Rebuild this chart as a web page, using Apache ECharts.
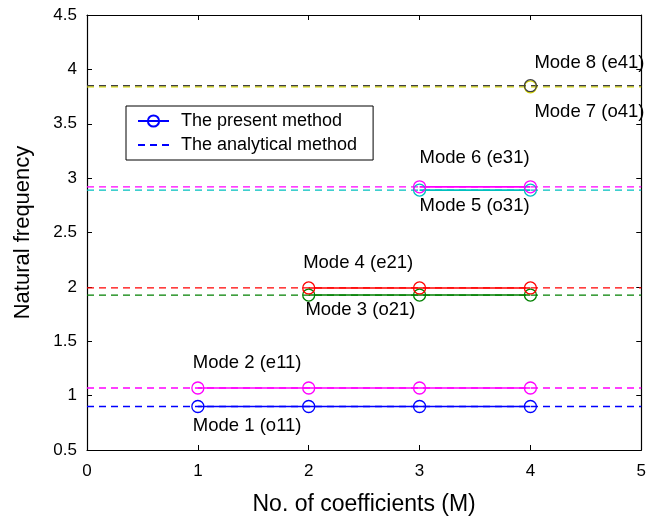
<!DOCTYPE html>
<html>
<head>
<meta charset="utf-8">
<script src="https://cdn.jsdelivr.net/npm/echarts@6/dist/echarts.min.js"></script>
<style>html,body{margin:0;padding:0;background:#fff;}#c{width:649px;height:521px;}</style>
</head>
<body>
<div id="c"></div>
<script>
// ---- data ----
const xTicks = [0, 1, 2, 3, 4, 5];
const yTicks = [0.5, 1, 1.5, 2, 2.5, 3, 3.5, 4, 4.5];
const coefficientsM = [1, 2, 3, 4];
const modeNames = ['Mode 1 (o11)', 'Mode 2 (e11)', 'Mode 3 (o21)', 'Mode 4 (e21)', 'Mode 5 (o31)', 'Mode 6 (e31)', 'Mode 7 (o41)', 'Mode 8 (e41)'];
// present method values at M = 1..4 (null = not computed)
const presentMode1 = [0.90, 0.90, 0.90, 0.90];
const presentMode2 = [1.07, 1.07, 1.07, 1.07];
const presentMode3 = [null, 1.925, 1.925, 1.925];
const presentMode4 = [null, 1.99, 1.99, 1.99];
const presentMode5 = [null, null, 2.89, 2.89];
const presentMode6 = [null, null, 2.92, 2.92];
const presentMode7 = [null, null, null, 3.84];
const presentMode8 = [null, null, null, 3.85];
// analytical values
const analyticalValues = [0.90, 1.07, 1.925, 1.99, 2.89, 2.92, 3.84, 3.85];
// annotation anchor (data coords)
const annotationX = [0.955, 0.955, 1.97, 1.95, 3.0, 3.0, 4.036, 4.036];
const annotationY = [0.72, 1.30, 1.79, 2.22, 2.74, 3.19, 3.61, 4.06];

// ---- styles ----
const modeColors = ['#0000ff', '#ff00ff', '#008000', '#ff0000', '#00bfbf', '#ff00ff', '#d8d800', '#404040'];
const presentList = [presentMode1, presentMode2, presentMode3, presentMode4, presentMode5, presentMode6, presentMode7, presentMode8];
const FONT = 'Liberation Sans, Arial, sans-serif';

const series = [];
analyticalValues.forEach((v, i) => {
  series.push({
    name: 'analytical' + i, type: 'line', symbol: 'none', silent: true,
    data: [[xTicks[0], v], [xTicks[xTicks.length - 1], v]],
    lineStyle: { color: modeColors[i], width: 1.3, type: [7, 5] },
    z: 2
  });
});
presentList.forEach((arr, i) => {
  series.push({
    name: 'present' + i, type: 'line', symbol: 'circle', symbolSize: 12,
    data: arr.map((v, k) => [coefficientsM[k], v]).filter(d => d[1] !== null),
    lineStyle: { color: modeColors[i], width: 1.6 },
    itemStyle: { color: 'rgba(0,0,0,0)', borderColor: modeColors[i], borderWidth: 1.3 },
    z: 3
  });
});
series.push({
  name: 'annotations', type: 'scatter', symbolSize: 0, silent: true,
  itemStyle: { opacity: 1 },
  data: modeNames.map((n, i) => ({ value: [annotationX[i], annotationY[i]], name: n })),
  label: { show: true, position: 'right', distance: 0, formatter: p => p.name, color: '#000', opacity: 1, fontFamily: FONT, fontSize: 18.5 },
  z: 5
});
series.push({
  name: 'The present method', type: 'line', symbol: 'circle', symbolSize: 12, data: [],
  lineStyle: { color: '#0000ff', width: 1.5 }, itemStyle: { color: 'rgba(0,0,0,0)', borderColor: '#0000ff', borderWidth: 1.3 }
});
series.push({
  name: 'The analytical method', type: 'line', symbol: 'none', data: [],
  lineStyle: { color: '#0000ff', width: 1.3, type: [7, 5] }, itemStyle: { color: '#0000ff' }
});

const axisCommon = {
  axisLine: { show: true, onZero: false, lineStyle: { color: '#000', width: 1.2 } },
  axisTick: { show: true, inside: true, length: 5, lineStyle: { color: '#000' } },
  splitLine: { show: false }
};

const chart = echarts.init(document.getElementById('c'), null, { renderer: 'canvas' });
chart.setOption({
  backgroundColor: '#fff',
  animation: false,
  grid: { left: 87, right: 7, top: 15, bottom: 67, containLabel: false },
  legend: {
    data: [
      { name: 'The present method' },
      { name: 'The analytical method', itemStyle: { opacity: 0 } }
    ],
    orient: 'vertical', left: 126, top: 106,
    borderColor: '#000', borderWidth: 1, backgroundColor: '#fff',
    padding: [6, 16, 6, 11], itemWidth: 31, itemHeight: 14, itemGap: 6,
    textStyle: { fontFamily: FONT, fontSize: 18, color: '#000', padding: [0, 0, 0, 7], lineHeight: 16 },
    selectedMode: false
  },
  xAxis: [
    Object.assign({ type: 'value', min: 0, max: 5, interval: 1, position: 'bottom',
      name: 'No. of coefficients (M)', nameLocation: 'middle', nameGap: 43,
      nameTextStyle: { fontFamily: FONT, fontSize: 23, color: '#000' },
      axisLabel: { color: '#000', fontFamily: FONT, fontSize: 17, margin: 13 } }, axisCommon),
    Object.assign({ type: 'value', min: 0, max: 5, interval: 1, position: 'top', axisLabel: { show: false } }, axisCommon)
  ],
  yAxis: [
    Object.assign({ type: 'value', min: 0.5, max: 4.5, interval: 0.5, position: 'left',
      name: 'Natural frequency', nameLocation: 'middle', nameGap: 53,
      nameTextStyle: { fontFamily: FONT, fontSize: 22, color: '#000' },
      axisLabel: { color: '#000', fontFamily: FONT, fontSize: 17, margin: 10 } }, axisCommon),
    Object.assign({ type: 'value', min: 0.5, max: 4.5, interval: 0.5, position: 'right', axisLabel: { show: false } }, axisCommon)
  ],
  series: series
});
</script>
</body>
</html>
